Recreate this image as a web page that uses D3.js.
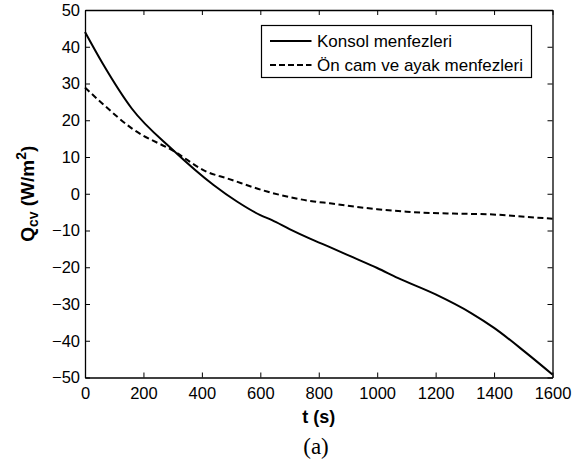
<!DOCTYPE html>
<html>
<head>
<meta charset="utf-8">
<script src="https://cdn.jsdelivr.net/npm/d3@7"></script>
<style>
  body { margin: 0; background: #fff; }
  svg { display: block; }
  text { font-family: "Liberation Sans", Arial, Helvetica, sans-serif; fill: #000; }
</style>
</head>
<body>
<div id="chart"></div>
<script>
// values
const konsolT = [0, 60, 160, 300, 440, 520, 600, 640, 700, 770, 840, 920, 1000, 1070, 1200, 1320, 1400, 1510, 1600]
const konsolQ = [44, 35.5, 23.2, 12, 2.4, -2.1, -5.8, -7.2, -9.6, -12.2, -14.6, -17.4, -20.2, -22.9, -27.4, -32.4, -36.5, -43.3, -49.2]

const onCamT = [0, 60, 160, 308, 416, 486, 623, 783, 838, 952, 1000, 1101, 1260, 1386, 1477, 1600]
const onCamQ = [28.9, 24.5, 17.8, 11.4, 6.0, 4.2, 0.6, -2.1, -2.6, -3.8, -4.2, -4.9, -5.4, -5.6, -6.1, -6.8]

const xTicks = [0, 200, 400, 600, 800, 1000, 1200, 1400, 1600]
const yTicks = [50, 40, 30, 20, 10, 0, -10, -20, -30, -40, -50]
const seriesNames = ["Konsol menfezleri", "Ön cam ve ayak menfezleri"]

const W = 581, H = 465
const margin = {left: 85, top: 10, right: 28.5, bottom: 87.5}
const pw = W - margin.left - margin.right
const ph = H - margin.top - margin.bottom

const svg = d3.select('#chart').append('svg')
    .attr('width', W)
    .attr('height', H)

const g = svg.append('g').attr('transform', `translate(${margin.left},${margin.top})`)

const x = d3.scaleLinear().domain([0, 1600]).range([0, pw])
const y = d3.scaleLinear().domain([-50, 50]).range([ph, 0])

// axes with inward ticks, mirrored on top and right
const xAxis = g.append('g').attr('transform', `translate(0,${ph})`)
    .call(d3.axisBottom(x).tickValues(xTicks).tickFormat(d3.format('d')).tickSizeInner(-5).tickSizeOuter(0).tickPadding(10))
const yAxis = g.append('g')
    .call(d3.axisLeft(y).tickValues(yTicks).tickFormat(d3.format('d')).tickSizeInner(-5).tickSizeOuter(0).tickPadding(5))
g.append('g')
    .call(d3.axisTop(x).tickValues(xTicks).tickSizeInner(-5).tickSizeOuter(0).tickFormat(''))
g.append('g').attr('transform', `translate(${pw},0)`)
    .call(d3.axisRight(y).tickValues(yTicks).tickSizeInner(-5).tickSizeOuter(0).tickFormat(''))

g.selectAll('.domain').attr('stroke', '#000').attr('stroke-width', 1.3)
g.selectAll('.tick line').attr('stroke', '#000').attr('stroke-width', 1)
g.selectAll('.tick text').style('font-size', '16.5px').attr('fill', '#000')
xAxis.selectAll('.tick text').attr('dy', '0.71em')

// curves
const line = d3.line()
    .x(d => x(d[0]))
    .y(d => y(d[1]))
    .curve(d3.curveMonotoneX)

const konsol = konsolT.map((t, i) => [t, konsolQ[i]])
const onCam = onCamT.map((t, i) => [t, onCamQ[i]])

g.append('path').datum(konsol)
    .attr('d', line)
    .attr('fill', 'none')
    .attr('stroke', '#000')
    .attr('stroke-width', 2)

g.append('path').datum(onCam)
    .attr('d', line)
    .attr('fill', 'none')
    .attr('stroke', '#000')
    .attr('stroke-width', 2)
    .attr('stroke-dasharray', '6,3.5')

// legend
const leg = svg.append('g').attr('transform', 'translate(261.5,25.5)')
leg.append('rect')
    .attr('width', 270).attr('height', 52)
    .attr('fill', '#fff').attr('stroke', '#000').attr('stroke-width', 1.2)
seriesNames.forEach((name, i) => {
    const ry = 15.5 + i * 24
    leg.append('line')
        .attr('x1', 8.5).attr('x2', 50)
        .attr('y1', ry).attr('y2', ry)
        .attr('stroke', '#000').attr('stroke-width', 2)
        .attr('stroke-dasharray', i == 1 ? '6,3' : null)
    leg.append('text')
        .attr('x', 55.5).attr('y', ry)
        .attr('dy', '0.35em')
        .style('font-size', '17px')
        .text(name)
})

// axis labels
svg.append('text')
    .attr('x', margin.left + pw / 2)
    .attr('y', 423)
    .attr('text-anchor', 'middle')
    .style('font-size', '18px')
    .style('font-weight', 'bold')
    .text('t (s)')

const yl = svg.append('text')
    .attr('transform', `translate(34,${margin.top + ph / 2}) rotate(-90)`)
    .attr('text-anchor', 'middle')
    .style('font-size', '19px')
    .style('font-weight', 'bold')
yl.append('tspan').text('Q')
yl.append('tspan').attr('dy', 4).style('font-size', '14px').text('cv')
yl.append('tspan').attr('dy', -4).text(' (W/m')
yl.append('tspan').attr('dy', -8).style('font-size', '14px').text('2')
yl.append('tspan').attr('dy', 8).text(')')

svg.append('text')
    .attr('x', 316)
    .attr('y', 454)
    .attr('text-anchor', 'middle')
    .style('font-family', '"Liberation Serif", "Times New Roman", serif')
    .style('font-size', '23px')
    .text('(a)')
</script>
</body>
</html>
